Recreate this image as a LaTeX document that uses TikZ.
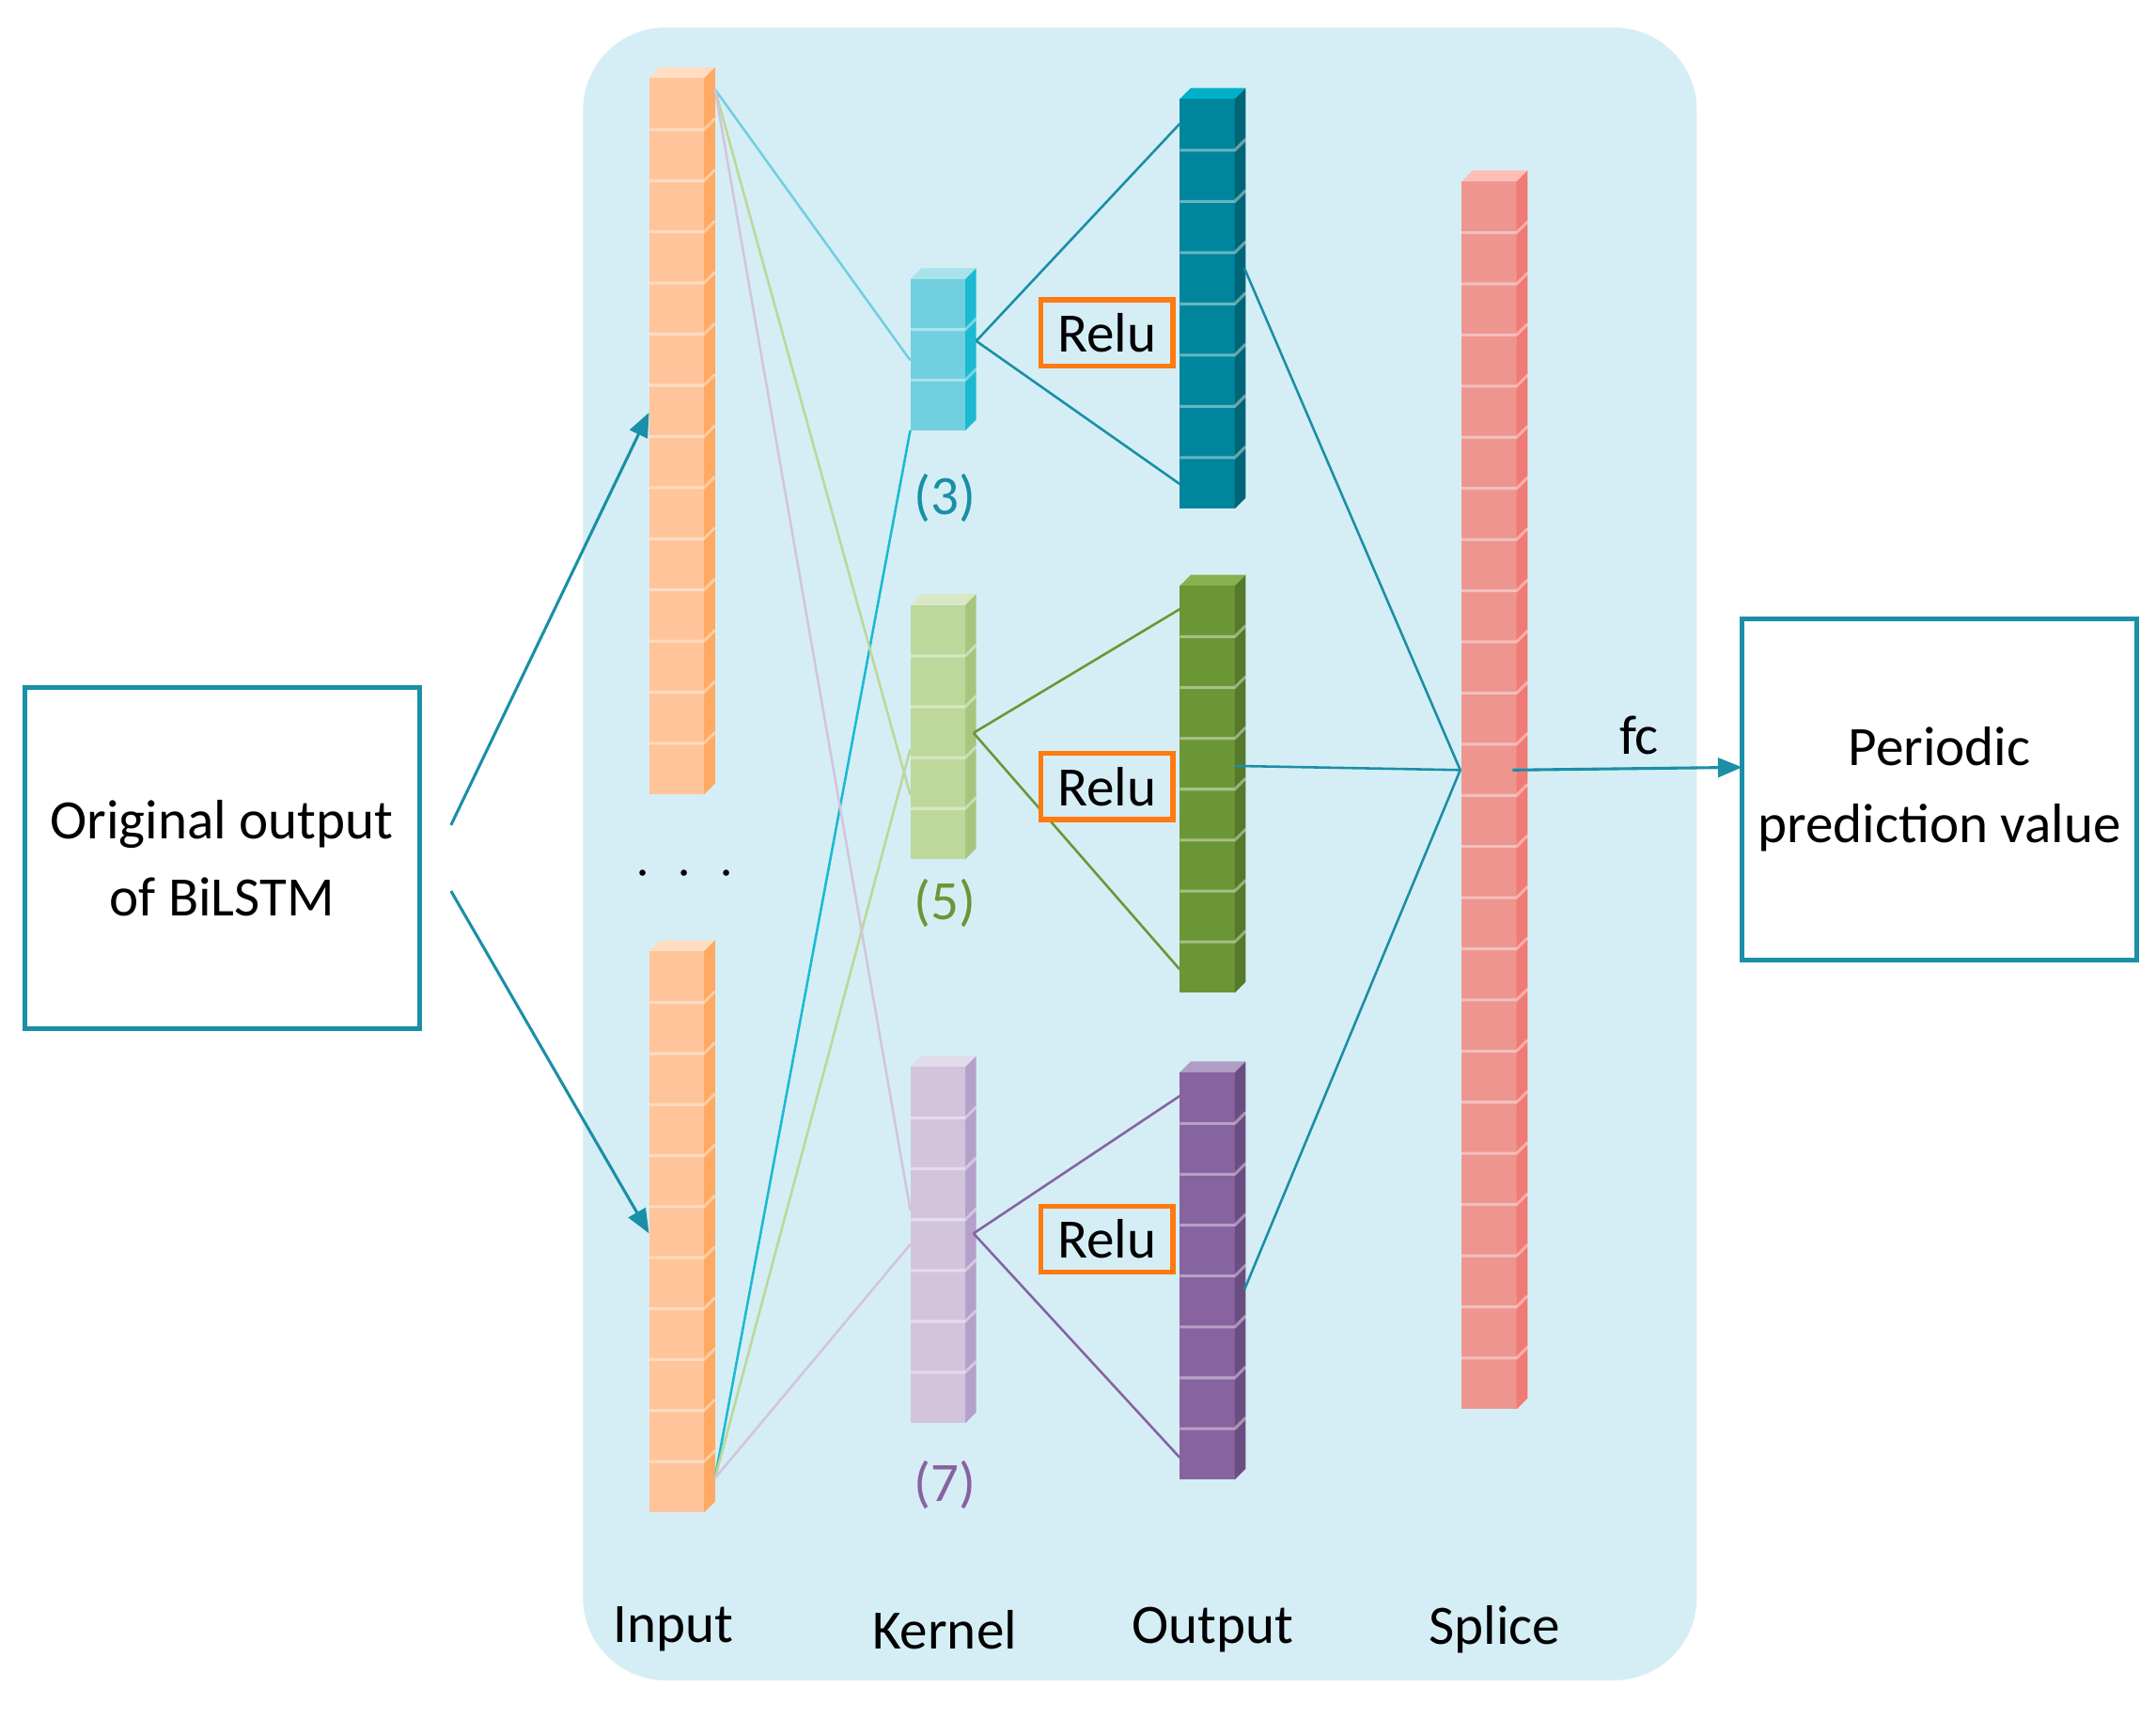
\documentclass[tikz,border=0pt]{standalone}
\usepackage{fontspec}
\setmainfont{Carlito}
\usetikzlibrary{arrows.meta}
\definecolor{bg}{HTML}{D5EEF5}
\definecolor{ln}{HTML}{1A8FA6}
\definecolor{relu}{HTML}{FF7A10}
\definecolor{orF}{HTML}{FFC499}\definecolor{orS}{HTML}{FFA963}\definecolor{orT}{HTML}{FFDDC0}
\definecolor{k3F}{HTML}{72CFDF}\definecolor{k3S}{HTML}{1BBAD1}\definecolor{k3T}{HTML}{A8E3EC}
\definecolor{k5F}{HTML}{BCD89A}\definecolor{k5S}{HTML}{A6C67E}\definecolor{k5T}{HTML}{D8E8C4}
\definecolor{k7F}{HTML}{D3C4DE}\definecolor{k7S}{HTML}{B5A0C9}\definecolor{k7T}{HTML}{E3DAEC}
\definecolor{o3F}{HTML}{00869C}\definecolor{o3S}{HTML}{006577}\definecolor{o3T}{HTML}{00B0C8}
\definecolor{o5F}{HTML}{6B9636}\definecolor{o5S}{HTML}{55782A}\definecolor{o5T}{HTML}{86B24F}
\definecolor{o7F}{HTML}{8763A0}\definecolor{o7S}{HTML}{6C4D82}\definecolor{o7T}{HTML}{B09CC4}
\definecolor{spF}{HTML}{EE958F}\definecolor{spS}{HTML}{F07A74}\definecolor{spT}{HTML}{FFBDB8}
\definecolor{gl}{HTML}{6B9636}\definecolor{pl}{HTML}{8763A0}
\newcommand\mycol[8]{% x, ytop, n, h, front, side, top, name
 \pgfmathsetmacro\yb{#2+#3*#4}
 \fill[#7] (#1,#2) -- ++(8,-8) -- ++(40,0) -- ++(-8,8) -- cycle;
 \fill[#5] (#1,#2) rectangle (#1+40,\yb);
 \fill[#6] (#1+40,#2) -- ++(8,-8) -- (#1+48,\yb-8) -- (#1+40,\yb) -- cycle;
 \foreach \i in {1,...,\numexpr#3-1\relax}{
   \draw[white,opacity=0.4,line width=0.6pt] (#1,#2+\i*#4) -- ++(40,0) -- ++(8,-8);}
 \coordinate (#8) at (#1,#2);
}
\begin{document}
\begin{tikzpicture}[x=0.01cm,y=-0.01cm,font=\fontsize{11.5}{14}\selectfont,
  conn/.style={line width=0.5pt},
  box/.style={draw=ln,line width=1pt,minimum width=287*0.01cm,minimum height=248*0.01cm,inner sep=0pt,align=center,font=\fontsize{11.5}{16}\selectfont},
  relubox/.style={draw=relu,line width=1pt,fill=bg,minimum width=96*0.01cm,minimum height=48*0.01cm,inner sep=0pt,font=\fontsize{11.5}{14}\selectfont},
  arr/.style={ln,line width=0.6pt,-{Triangle[length=5pt,width=4pt]}}]
\useasboundingbox (0,0) rectangle (1568,1250);
\fill[white] (0,0) rectangle (1568,1250);
\fill[bg,rounded corners=60*0.01cm] (424,20) rectangle (1234,1222);
% columns
\mycol{472}{57}{14}{37.2}{orF}{orS}{orT}{in1}
\mycol{472}{692}{11}{37.1}{orF}{orS}{orT}{in2}
\mycol{662}{203}{3}{36.7}{k3F}{k3S}{k3T}{k3}
\mycol{662}{440}{5}{37}{k5F}{k5S}{k5T}{k5}
\mycol{662}{776}{7}{37}{k7F}{k7S}{k7T}{k7}
\mycol{858}{72}{8}{37.25}{o3F}{o3S}{o3T}{o3}
\mycol{858}{426}{8}{37}{o5F}{o5S}{o5T}{o5}
\mycol{858}{780}{8}{37}{o7F}{o7S}{o7T}{o7}
\mycol{1063}{132}{24}{37.2}{spF}{spS}{spT}{sp}
% coordinates
\coordinate (i1) at (520,65); \coordinate (i2) at (520,1075);
\coordinate (k3l) at (662,262); \coordinate (k3b) at (662,313);
\coordinate (k5l) at (662,578); \coordinate (k5b) at (662,545);
\coordinate (k7l) at (662,880); \coordinate (k7b) at (662,905);
\coordinate (k3r) at (710,248); \coordinate (k5r) at (708,533); \coordinate (k7r) at (708,897);
\coordinate (o3a) at (858,90); \coordinate (o3b) at (858,352);
\coordinate (o5a) at (858,443); \coordinate (o5b) at (858,705);
\coordinate (o7a) at (858,797); \coordinate (o7b) at (858,1060);
\coordinate (o3r) at (905,195); \coordinate (o5r) at (898,557); \coordinate (o7r) at (905,938);
\coordinate (spl) at (1062,560); \coordinate (spr) at (1100,560);
\draw[conn,k3F] (i1) -- (k3l); \draw[conn,k3S] (i2) -- (k3b);
\draw[conn,k5F] (i1) -- (k5l); \draw[conn,k5F] (i2) -- (k5b);
\draw[conn,k7F] (i1) -- (k7l); \draw[conn,k7F] (i2) -- (k7b);
\draw[conn,ln] (k3r) -- (o3a); \draw[conn,ln] (k3r) -- (o3b);
\draw[conn,gl] (k5r) -- (o5a); \draw[conn,gl] (k5r) -- (o5b);
\draw[conn,pl] (k7r) -- (o7a); \draw[conn,pl] (k7r) -- (o7b);
\draw[conn,ln] (o3r) -- (spl) -- (o7r); \draw[conn,ln] (o5r) -- (spl);
% boxes
\node[box] (orig) at (161.5,624) {Original output\\of BiLSTM};
\node[box] (pred) at (1410.5,574) {Periodic\\prediction value};
\coordinate (a1) at (328,600); \coordinate (a2) at (328,648);
\coordinate (t1) at (472,300); \coordinate (t2) at (472,897);
\coordinate (pin) at (1267,558);
\draw[arr] (a1) -- (t1); \draw[arr] (a2) -- (t2);
\draw[arr] (spr) -- (pin);
\node[font=\fontsize{11.5}{14}\selectfont] (fc) at (1192,535) {fc};
\node[relubox] (r1) at (805,242) {Relu};
\node[relubox] (r2) at (805,572) {Relu};
\node[relubox] (r3) at (805,901) {Relu};
\node[text=ln] (l3) at (687,362) {(3)};
\node[text=gl] (l5) at (687,657) {(5)};
\node[text=pl] (l7) at (687,1080) {(7)};
\node (dots) at (498,636) {$\cdot\ \cdot\ \cdot$};
\node (tin) at (490,1185) {Input};
\node (tk) at (687,1185) {Kernel};
\node (to) at (882,1185) {Output};
\node (ts) at (1087,1185) {Splice};
\end{tikzpicture}
\end{document}
